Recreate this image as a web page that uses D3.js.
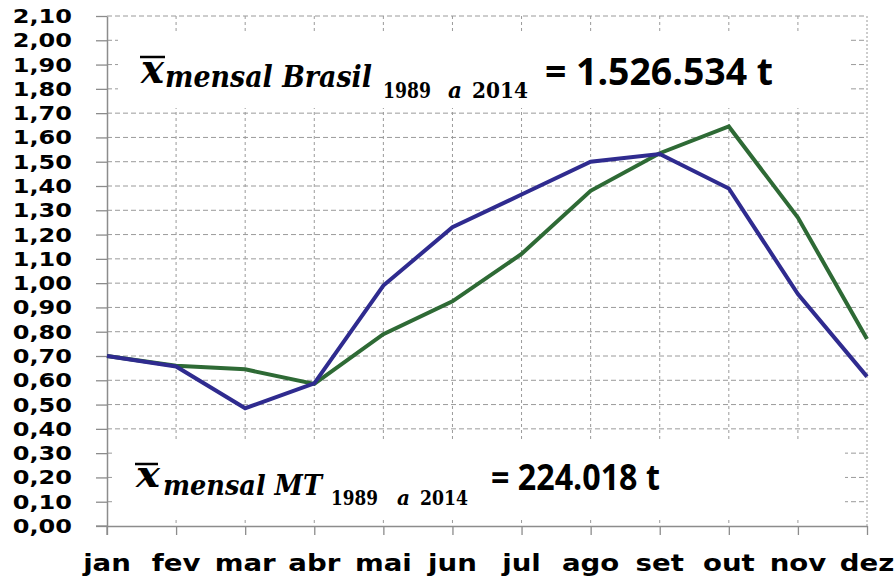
<!DOCTYPE html>
<html>
<head>
<meta charset="utf-8">
<script src="https://cdn.jsdelivr.net/npm/d3@7"></script>
<style>
  body { margin: 0; background: #fff; }
  svg { display: block; }
</style>
</head>
<body>
<div id="chart"></div>
<script>
// monthly values, relative to the mean
var meses = ['jan', 'fev', 'mar', 'abr', 'mai', 'jun', 'jul', 'ago', 'set', 'out', 'nov', 'dez'];
var brasil = [0.70, 0.66, 0.645, 0.585, 0.79, 0.925, 1.12, 1.38, 1.535, 1.645, 1.27, 0.77];
var mt = [0.70, 0.657, 0.485, 0.587, 0.99, 1.23, 1.365, 1.50, 1.532, 1.39, 0.955, 0.615];
var yTicks = [0, 0.1, 0.2, 0.3, 0.4, 0.5, 0.6, 0.7, 0.8, 0.9, 1.0, 1.1, 1.2, 1.3, 1.4, 1.5, 1.6, 1.7, 1.8, 1.9, 2.0, 2.1];

var width = 896, height = 579;
var x0 = 107, x1 = 867, yTop = 16, yBot = 526;

var x = d3.scalePoint().domain(meses).range([x0, x1]);
var y = d3.scaleLinear().domain([0, 2.1]).range([yBot, yTop]);
var fmt = function (v) { return d3.format('.2f')(v).replace('.', ','); };

var svg = d3.select('#chart').append('svg').attr('width', width).attr('height', height);

// grid
svg.append('g').selectAll('line').data(yTicks.filter(function (d) { return d > 0; })).enter().append('line')
  .attr('x1', x0).attr('x2', x1)
  .attr('y1', function (d) { return y(d); }).attr('y2', function (d) { return y(d); })
  .attr('stroke', '#9a9a9a').attr('stroke-width', 1).attr('stroke-dasharray', '5,3');
svg.append('g').selectAll('line').data(meses.slice(1)).enter().append('line')
  .attr('x1', function (d) { return x(d); }).attr('x2', function (d) { return x(d); })
  .attr('y1', yTop).attr('y2', yBot)
  .attr('stroke', '#9a9a9a').attr('stroke-width', 1)
  .attr('stroke-dasharray', function (d, i) { return i === 10 ? '2,2' : '3,3'; });

// white boxes behind the text
svg.append('rect').attr('x', 118).attr('y', 31).attr('width', 733).attr('height', 77).attr('fill', '#fff');
svg.append('rect').attr('x', 115).attr('y', 440).attr('width', 730).attr('height', 77).attr('fill', '#fff');

// axes
var yAxis = svg.append('g').attr('transform', 'translate(' + x0 + ',0)')
  .call(d3.axisLeft(y).tickValues(yTicks).tickSize(11).tickSizeOuter(0).tickFormat(''));
var xAxis = svg.append('g').attr('transform', 'translate(0,' + yBot + ')')
  .call(d3.axisBottom(x).tickSize(9).tickSizeOuter(0).tickFormat(''));
[yAxis, xAxis].forEach(function (a) {
  a.selectAll('line').attr('stroke', '#8c8c8c').attr('stroke-width', 1.3);
  a.select('.domain').attr('stroke', '#8c8c8c').attr('stroke-width', 1.5);
});
svg.append('line').attr('x1', 96).attr('x2', x0).attr('y1', yBot).attr('y2', yBot)
  .attr('stroke', '#8c8c8c').attr('stroke-width', 1.3);
svg.append('line').attr('x1', x0).attr('x2', x0).attr('y1', yBot).attr('y2', yBot + 9)
  .attr('stroke', '#8c8c8c').attr('stroke-width', 1.3);

svg.append('g').selectAll('text').data(yTicks).enter().append('text')
  .attr('transform', function (d) { return 'translate(72,' + (y(d) + 7) + ') scale(1.2,1)'; })
  .attr('text-anchor', 'end')
  .style('font', 'bold 20px "DejaVu Sans"')
  .text(fmt);

svg.append('g').selectAll('text').data(meses).enter().append('text')
  .attr('transform', function (d) { return 'translate(' + x(d) + ',571) scale(1.2,1)'; })
  .attr('text-anchor', 'middle')
  .style('font', 'bold 23px "DejaVu Sans"')
  .text(function (d) { return d; });

// lines
var line = d3.line().x(function (d, i) { return x(meses[i]); }).y(function (d) { return y(d); });
svg.append('path').datum(brasil).attr('d', line)
  .attr('fill', 'none').attr('stroke', '#2e6a35').attr('stroke-width', 4);
svg.append('path').datum(mt).attr('d', line)
  .attr('fill', 'none').attr('stroke', '#2f2b8f').attr('stroke-width', 4);

// text squeezed/stretched to span [xa, xb]
function fit(g, str, xa, xb, yb, font) {
  var t = g.append('text').attr('x', 0).attr('y', 0).style('font', font).text(str);
  var w = t.node().getComputedTextLength();
  t.attr('transform', 'translate(' + xa + ',' + yb + ') scale(' + ((xb - xa) / w) + ',1)');
  return t;
}

// mean annotations
function mean(g, o) {
  g.append('line').attr('x1', o.bar[0]).attr('x2', o.bar[1]).attr('y1', o.bar[2]).attr('y2', o.bar[2])
    .attr('stroke', '#000').attr('stroke-width', 2.5);
  var serif = '"DejaVu Serif"';
  fit(g, 'x', o.xx[0], o.xx[1], o.xb, 'italic bold ' + o.xs + 'px ' + serif);
  fit(g, o.label, o.m[0], o.m[1], o.m[2], 'italic bold ' + o.ms + 'px ' + serif);
  o.sub.forEach(function (s) {
    fit(g, s[0], s[1], s[2], o.sb, (s[0] === 'a' ? 'italic ' : '') + 'bold ' + o.ss + 'px ' + serif);
  });
  fit(g, o.value, o.v[0], o.v[1], o.v[2], 'bold ' + o.vs + 'px "Open Sans"');
}

mean(svg.append('g'), {
  bar: [140, 165, 57], xx: [141, 164], xb: 83, xs: 41,
  label: 'mensal Brasil', m: [165, 372, 87], ms: 30,
  sub: [['1989', 383, 431], ['a', 448, 462], ['2014', 472, 528]], sb: 98, ss: 22,
  value: '= 1.526.534 t', v: [545, 773, 85], vs: 38
});
mean(svg.append('g'), {
  bar: [135, 158, 464], xx: [136, 160], xb: 487, xs: 37,
  label: 'mensal MT', m: [163, 322, 495], ms: 27,
  sub: [['1989', 331, 378], ['a', 397, 410], ['2014', 420, 468]], sb: 505, ss: 20,
  value: '= 224.018 t', v: [491, 660, 490], vs: 35
});
</script>
</body>
</html>
